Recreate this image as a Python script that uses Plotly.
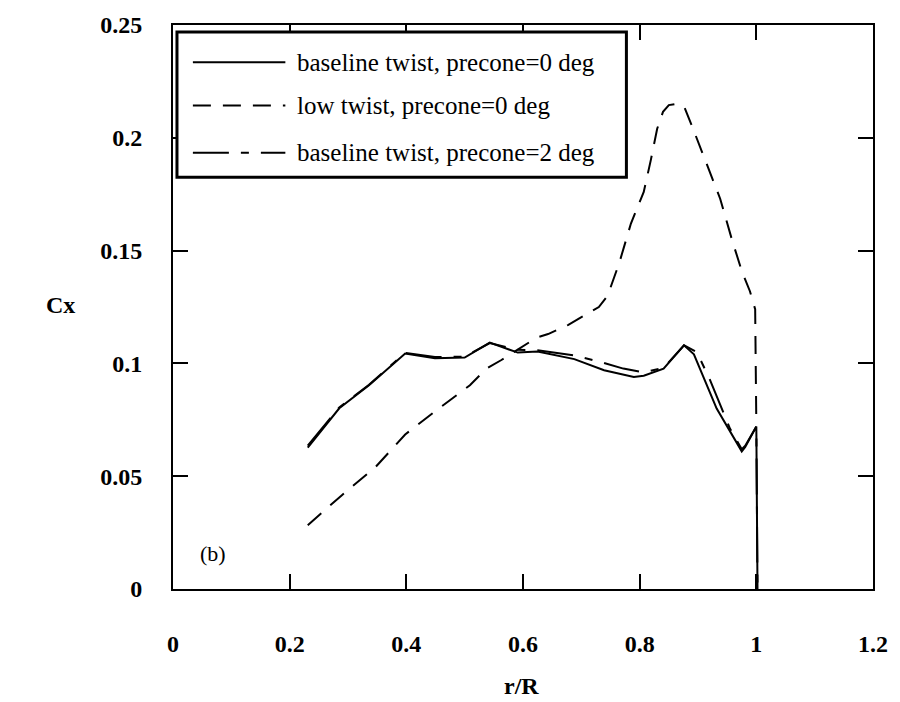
import plotly.graph_objects as go

# ---- data ----
series_names = [
    "baseline twist, precone=0 deg",
    "low twist, precone=0 deg",
    "baseline twist, precone=2 deg",
]

r_base0 = [0.231, 0.285, 0.336, 0.398, 0.449, 0.500, 0.543, 0.591, 0.625, 0.688,
           0.739, 0.790, 0.807, 0.841, 0.876, 0.893, 0.932, 0.955, 0.975, 0.981,
           1.000, 1.002]
cx_base0 = [0.0627, 0.0801, 0.0903, 0.1044, 0.1023, 0.1026, 0.1092, 0.1048, 0.1053, 0.1019,
            0.0970, 0.0940, 0.0945, 0.0977, 0.1080, 0.1040, 0.0800, 0.0695, 0.0610, 0.0630,
            0.0720, 0.0]

r_low0 = [0.231, 0.290, 0.347, 0.398, 0.449, 0.509, 0.537, 0.563, 0.623, 0.643,
          0.677, 0.708, 0.730, 0.745, 0.765, 0.785, 0.807, 0.819, 0.830, 0.840,
          0.850, 0.862, 0.876, 0.890, 0.915, 0.938, 0.958, 0.975, 0.989, 0.998,
          1.000]
cx_low0 = [0.0283, 0.0417, 0.0540, 0.0685, 0.0787, 0.0903, 0.0976, 0.1015, 0.1114, 0.1130,
           0.1170, 0.1215, 0.1250, 0.1300, 0.1445, 0.1620, 0.1760, 0.1900, 0.2040, 0.2115,
           0.2145, 0.2150, 0.2140, 0.2050, 0.1880, 0.1730, 0.1550, 0.1410, 0.1320, 0.1240,
           0.0730]

r_base2 = [0.231, 0.285, 0.336, 0.398, 0.449, 0.500, 0.543, 0.591, 0.625, 0.688,
           0.735, 0.772, 0.807, 0.841, 0.876, 0.898, 0.920, 0.955, 0.975, 0.981,
           1.000, 1.002]
cx_base2 = [0.0635, 0.0805, 0.0905, 0.1047, 0.1028, 0.1030, 0.1090, 0.1060, 0.1058, 0.1035,
            0.1005, 0.0977, 0.0960, 0.0980, 0.1080, 0.1050, 0.0930, 0.0710, 0.0620, 0.0635,
            0.0720, 0.0]

x_ticks = [0, 0.2, 0.4, 0.6, 0.8, 1, 1.2]
x_tick_text = ["0", "0.2", "0.4", "0.6", "0.8", "1", "1.2"]
y_ticks = [0, 0.05, 0.1, 0.15, 0.2, 0.25]
y_tick_text = ["0", "0.05", "0.1", "0.15", "0.2", "0.25"]

# ---- figure ----
W, H = 900, 702
ML, MT = 173, 15
PW, PH = 704, 574
MR, MB = W - ML - PW, H - MT - PH
FONT = "Liberation Serif, Times New Roman, serif"

def px(x):
    # page x -> paper coordinate
    return (x - ML) / PW

def py(y):
    # page y -> paper coordinate
    return (MT + PH - y) / PH

dashes = ["solid", "18px,12px", "36px,12px,8px,12px"]
data = [(r_base0, cx_base0), (r_low0, cx_low0), (r_base2, cx_base2)]

fig = go.Figure()
for (xs, ys), d, name in zip(data, dashes, series_names):
    fig.add_trace(go.Scatter(x=xs, y=ys, mode="lines", name=name, showlegend=False,
                             line=dict(color="black", width=2, dash=d)))

axis_common = dict(showline=True, linecolor="black", linewidth=2, mirror="ticks",
                   ticks="inside", ticklen=15, tickwidth=1.5, tickcolor="black",
                   showgrid=False, zeroline=False, ticklabeloverflow="allow",
                   tickfont=dict(family=FONT, size=24, color="black", weight="bold"))

fig.update_xaxes(range=[0, 1.2], tickvals=x_ticks, ticktext=x_tick_text,
                 ticklabelstandoff=32, **axis_common)
fig.update_yaxes(range=[0, 0.25], tickvals=y_ticks, ticktext=y_tick_text,
                 ticklabelstandoff=24, **axis_common)

shapes = []
annotations = []
# legend box drawn by hand so the line samples are as long as in the reference
shapes.append(dict(type="rect", xref="paper", yref="paper",
                   x0=px(177), x1=px(629), y0=py(170), y1=py(22),
                   line=dict(color="black", width=3), fillcolor="white", layer="above"))
rows_y = [53, 97, 145]
for name, d, ry in zip(series_names, dashes, rows_y):
    shapes.append(dict(type="line", xref="paper", yref="paper",
                       x0=px(193), x1=px(286), y0=py(ry), y1=py(ry),
                       line=dict(color="black", width=2, dash=d), layer="above"))
    annotations.append(dict(text=name, xref="paper", yref="paper",
                            x=px(296), y=py(ry), xanchor="left", yanchor="middle",
                            showarrow=False, font=dict(family=FONT, size=25, color="black")))

annotations.append(dict(text="(b)", xref="paper", yref="paper", x=px(213), y=py(553),
                        xanchor="center", yanchor="middle", showarrow=False,
                        font=dict(family=FONT, size=22, color="black")))
annotations.append(dict(text="r/R", xref="paper", yref="paper", x=px(523), y=py(688),
                        xanchor="center", yanchor="middle", showarrow=False,
                        font=dict(family=FONT, size=24, color="black", weight="bold")))
annotations.append(dict(text="Cx", xref="paper", yref="paper", x=px(60), y=py(300),
                        xanchor="center", yanchor="middle", showarrow=False,
                        font=dict(family=FONT, size=24, color="black", weight="bold")))

fig.update_layout(width=W, height=H, margin=dict(l=ML, r=MR, t=MT, b=MB),
                  plot_bgcolor="white", paper_bgcolor="white",
                  shapes=shapes, annotations=annotations, hovermode=False,
                  font=dict(family=FONT, color="black"))

# remove the browser's default 8px page margin so the figure fills the window
fig.write_html("out.html", config={"displayModeBar": False},
               post_script="document.body.style.margin='0';document.body.style.overflow='hidden';")
